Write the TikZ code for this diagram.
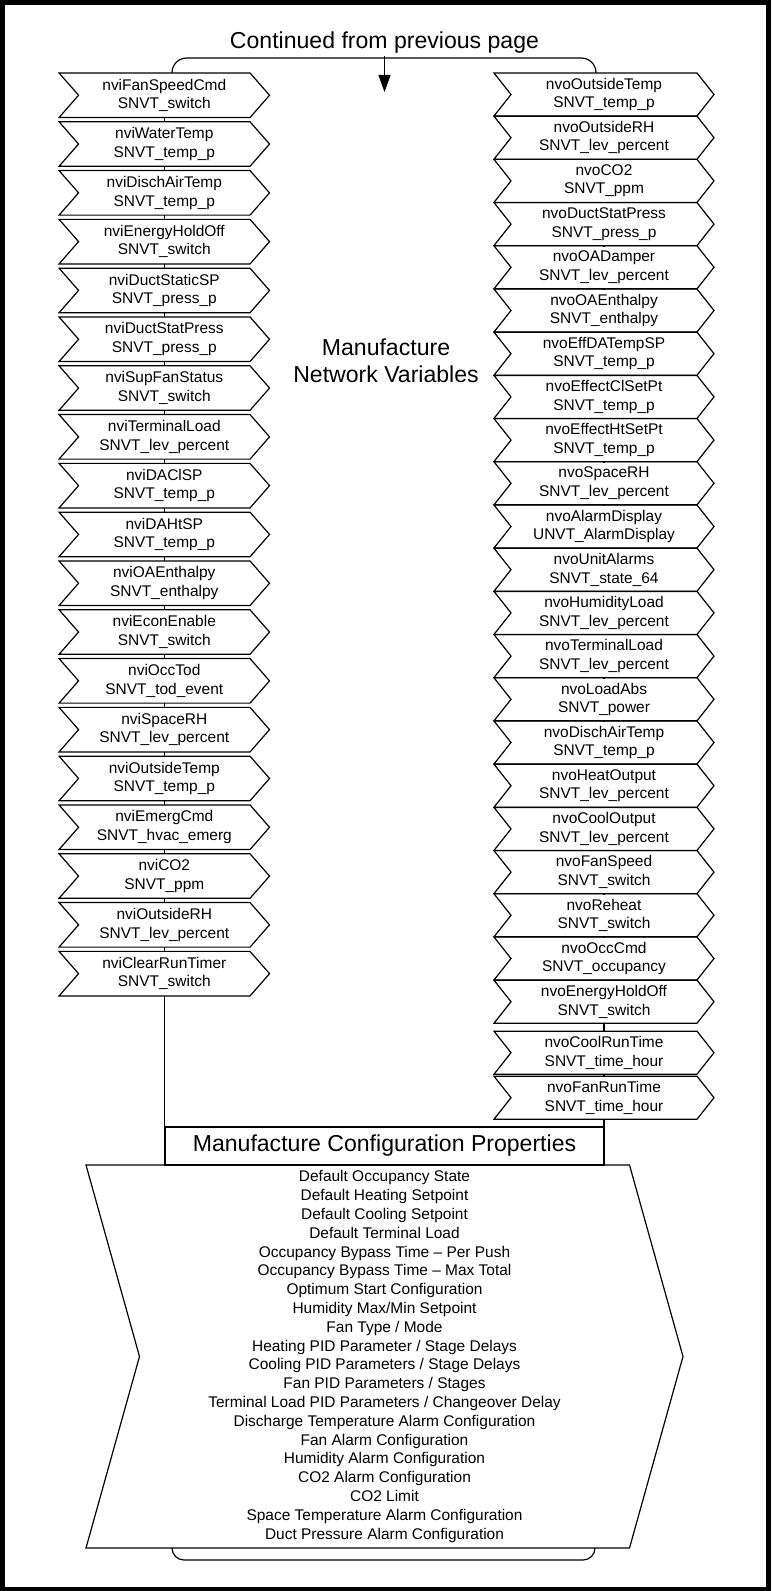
\documentclass[tikz,border=0pt]{standalone}
\usepackage{fontspec}
\setmainfont{Liberation Sans}
\usepackage{tikz}
\usetikzlibrary{positioning}
\usetikzlibrary{calc}
\usetikzlibrary{arrows.meta}

\newcommand{\nvfont}{\fontsize{11.6pt}{13.9pt}\selectfont}
\newcommand{\cpfont}{\fontsize{11.6pt}{14.1pt}\selectfont}
\newcommand{\headfont}{\fontsize{17.3pt}{20.3pt}\selectfont}

\tikzset{
    nvibox/.style={minimum width=128.6pt, minimum height=33.4pt, inner sep=0pt,
        outer sep=0pt, align=center, font=\nvfont},
    nvobox/.style={minimum width=139.5pt, minimum height=32.25pt, inner sep=0pt,
        outer sep=0pt, align=center, font=\nvfont},
    heading/.style={inner sep=1pt, align=center, font=\headfont},
}

\begin{document}
\begin{tikzpicture}[x=0.75pt, y=-0.75pt, line width=0.9pt]
    \useasboundingbox (0,0) rectangle (771,1591);
    \draw[line width=3.4pt] (2.25,2.25) rectangle (768.75,1588.75);

    \node[heading] (cont) at (384.5,43) {Continued from previous page};
    \coordinate (tip) at (384.5,92);
    \draw[-{Triangle[length=12.75pt,width=9pt]}] (cont.south) -- (tip);
    \draw[rounded corners=11pt] (172,73) -- (172,58) -- (596,58) -- (596,73);

    \node[nvibox] (nvi1) at (164.3,95.25) {nviFanSpeedCmd\\SNVT\_switch};
    \node[nvibox, below=3.2pt of nvi1] (nvi2) {nviWaterTemp\\SNVT\_temp\_p};
    \node[nvibox, below=3.2pt of nvi2] (nvi3) {nviDischAirTemp\\SNVT\_temp\_p};
    \node[nvibox, below=3.2pt of nvi3] (nvi4) {nviEnergyHoldOff\\SNVT\_switch};
    \node[nvibox, below=3.2pt of nvi4] (nvi5) {nviDuctStaticSP\\SNVT\_press\_p};
    \node[nvibox, below=3.2pt of nvi5] (nvi6) {nviDuctStatPress\\SNVT\_press\_p};
    \node[nvibox, below=3.2pt of nvi6] (nvi7) {nviSupFanStatus\\SNVT\_switch};
    \node[nvibox, below=3.2pt of nvi7] (nvi8) {nviTerminalLoad\\SNVT\_lev\_percent};
    \node[nvibox, below=3.2pt of nvi8] (nvi9) {nviDAClSP\\SNVT\_temp\_p};
    \node[nvibox, below=3.2pt of nvi9] (nvi10) {nviDAHtSP\\SNVT\_temp\_p};
    \node[nvibox, below=3.2pt of nvi10] (nvi11) {nviOAEnthalpy\\SNVT\_enthalpy};
    \node[nvibox, below=3.2pt of nvi11] (nvi12) {nviEconEnable\\SNVT\_switch};
    \node[nvibox, below=3.2pt of nvi12] (nvi13) {nviOccTod\\SNVT\_tod\_event};
    \node[nvibox, below=3.2pt of nvi13] (nvi14) {nviSpaceRH\\SNVT\_lev\_percent};
    \node[nvibox, below=3.2pt of nvi14] (nvi15) {nviOutsideTemp\\SNVT\_temp\_p};
    \node[nvibox, below=3.2pt of nvi15] (nvi16) {nviEmergCmd\\SNVT\_hvac\_emerg};
    \node[nvibox, below=3.2pt of nvi16] (nvi17) {nviCO2\\SNVT\_ppm};
    \node[nvibox, below=3.2pt of nvi17] (nvi18) {nviOutsideRH\\SNVT\_lev\_percent};
    \node[nvibox, below=3.2pt of nvi18] (nvi19) {nviClearRunTimer\\SNVT\_switch};

    \node[nvobox] (nvo1) at (604,94.5) {nvoOutsideTemp\\SNVT\_temp\_p};
    \node[nvobox, below=0.15pt of nvo1] (nvo2) {nvoOutsideRH\\SNVT\_lev\_percent};
    \node[nvobox, below=0.15pt of nvo2] (nvo3) {nvoCO2\\SNVT\_ppm};
    \node[nvobox, below=0.15pt of nvo3] (nvo4) {nvoDuctStatPress\\SNVT\_press\_p};
    \node[nvobox, below=0.15pt of nvo4] (nvo5) {nvoOADamper\\SNVT\_lev\_percent};
    \node[nvobox, below=0.15pt of nvo5] (nvo6) {nvoOAEnthalpy\\SNVT\_enthalpy};
    \node[nvobox, below=0.15pt of nvo6] (nvo7) {nvoEffDATempSP\\SNVT\_temp\_p};
    \node[nvobox, below=0.15pt of nvo7] (nvo8) {nvoEffectClSetPt\\SNVT\_temp\_p};
    \node[nvobox, below=0.15pt of nvo8] (nvo9) {nvoEffectHtSetPt\\SNVT\_temp\_p};
    \node[nvobox, below=0.15pt of nvo9] (nvo10) {nvoSpaceRH\\SNVT\_lev\_percent};
    \node[nvobox, below=0.15pt of nvo10] (nvo11) {nvoAlarmDisplay\\UNVT\_AlarmDisplay};
    \node[nvobox, below=0.15pt of nvo11] (nvo12) {nvoUnitAlarms\\SNVT\_state\_64};
    \node[nvobox, below=0.15pt of nvo12] (nvo13) {nvoHumidityLoad\\SNVT\_lev\_percent};
    \node[nvobox, below=0.15pt of nvo13] (nvo14) {nvoTerminalLoad\\SNVT\_lev\_percent};
    \node[nvobox, below=0.15pt of nvo14] (nvo15) {nvoLoadAbs\\SNVT\_power};
    \node[nvobox, below=0.15pt of nvo15] (nvo16) {nvoDischAirTemp\\SNVT\_temp\_p};
    \node[nvobox, below=0.15pt of nvo16] (nvo17) {nvoHeatOutput\\SNVT\_lev\_percent};
    \node[nvobox, below=0.15pt of nvo17] (nvo18) {nvoCoolOutput\\SNVT\_lev\_percent};
    \node[nvobox, below=0.15pt of nvo18] (nvo19) {nvoFanSpeed\\SNVT\_switch};
    \node[nvobox, below=0.15pt of nvo19] (nvo20) {nvoReheat\\SNVT\_switch};
    \node[nvobox, below=0.15pt of nvo20] (nvo21) {nvoOccCmd\\SNVT\_occupancy};
    \node[nvobox, below=0.15pt of nvo21] (nvo22) {nvoEnergyHoldOff\\SNVT\_switch};
    \node[nvobox, below=6pt of nvo22] (nvo23) {nvoCoolRunTime\\SNVT\_time\_hour};
    \node[nvobox, below=1.5pt of nvo23] (nvo24) {nvoFanRunTime\\SNVT\_time\_hour};

    \foreach \i in {1,...,19}
        \draw ($(nvi\i.north west)+(-19.5,0)$) -- (nvi\i.north east) -- ($(nvi\i.east)+(19.5,0)$)
            -- (nvi\i.south east) -- ($(nvi\i.south west)+(-19.5,0)$) -- (nvi\i.west) -- cycle;
    \foreach \i in {1,...,24}
        \draw ($(nvo\i.north west)+(-17,0)$) -- (nvo\i.north east) -- ($(nvo\i.east)+(17,0)$)
            -- (nvo\i.south east) -- ($(nvo\i.south west)+(-17,0)$) -- (nvo\i.west) -- cycle;
    \foreach \i [count=\j from 2] in {1,...,18}
        \draw (nvi\i.south) -- (nvi\j.north);
    \foreach \i [count=\j from 2] in {1,...,23}
        \draw (nvo\i.south) -- (nvo\j.north);

    \node[heading] (mnv) at (386,360.5) {Manufacture\\Network Variables};

    \node[draw, minimum width=329.25pt, minimum height=28.5pt, inner sep=0pt, outer sep=0pt,
        font=\headfont] (cptitle) at (384.5,1146) {Manufacture Configuration Properties};
    \node[minimum width=367.5pt, minimum height=287.25pt, inner sep=0pt, outer sep=0pt,
        align=center, font=\cpfont, below=0pt of cptitle] (cplist) {Default Occupancy State\\
        Default Heating Setpoint\\
        Default Cooling Setpoint\\
        Default Terminal Load\\
        Occupancy Bypass Time – Per Push\\
        Occupancy Bypass Time – Max Total\\
        Optimum Start Configuration\\
        Humidity Max/Min Setpoint\\
        Fan Type / Mode\\
        Heating PID Parameter / Stage Delays\\
        Cooling PID Parameters / Stage Delays\\
        Fan PID Parameters / Stages\\
        Terminal Load PID Parameters / Changeover Delay\\
        Discharge Temperature Alarm Configuration\\
        Fan Alarm Configuration\\
        Humidity Alarm Configuration\\
        CO2 Alarm Configuration\\
        CO2 Limit\\
        Space Temperature Alarm Configuration\\
        Duct Pressure Alarm Configuration};
    \draw ($(cplist.north west)+(-53.5,0)$) -- (cplist.north east) -- ($(cplist.east)+(53.5,0)$)
        -- (cplist.south east) -- ($(cplist.south west)+(-53.5,0)$) -- (cplist.west) -- cycle;

    \draw (nvi19.south) -- (nvi19.south |- cptitle.north);
    \draw (nvo24.south) -- (nvo24.south |- cptitle.north);
    \draw[rounded corners=9pt] (172,1548) -- (172,1560) -- (595,1560) -- (595,1548);
\end{tikzpicture}
\end{document}
